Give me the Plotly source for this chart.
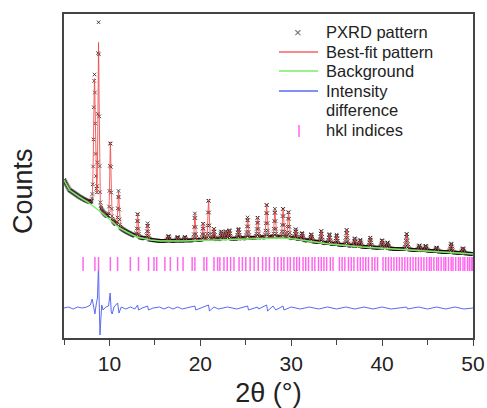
import numpy as np
import plotly.graph_objects as go

# ---------------- data (arbitrary count units) ----------------
# background anchor points (2theta, counts)
bg_x = [5.0, 5.6, 6.7, 7.6, 9.2, 10.2, 11.1, 11.9, 13.0, 14.5, 15.6, 18.0, 21.1, 24.0, 26.7, 28.9, 30.3, 32.0, 34.1, 37.8, 41.4, 45.2, 50.0]
bg_y = [158, 148, 141, 136, 125, 117, 110, 106, 101, 98, 97, 97, 98, 99, 100, 100, 99, 97, 94, 91, 89, 87, 84]

# reflections of the fit: position, calculated height above background, observed height, FWHM
peak_pos = [8.35, 8.8, 10.1, 11.0, 13.1, 14.2, 16.5, 17.5, 18.3, 19.4, 20.3, 20.9, 21.5, 22.3, 22.8, 23.2,
            24.2, 25.2, 26.3, 27.3, 28.2, 29.1, 29.7, 30.5, 31.2, 32.2, 33.3, 34.2, 35.0, 36.1, 37.0,
            37.6, 38.7, 40.0, 40.6, 42.7, 44.1, 44.8, 46.0, 47.6, 48.9]
calc_height = [128, 166, 78, 35, 23, 16, 5, 4, 4, 26, 17, 40, 11, 8, 8, 9,
               10, 20, 21, 33, 28, 29, 27, 10, 7, 7, 12, 10, 10, 16, 8,
               7, 10, 8, 6, 15, 5, 5, 4, 9, 5]
obs_height = [132, 186, 80, 36, 24, 16, 5, 4, 4, 27, 17, 41, 11, 8, 8, 9,
              10, 21, 21, 34, 29, 30, 27, 10, 7, 7, 12, 10, 10, 16, 8,
              7, 10, 8, 6, 16, 5, 5, 4, 9, 5]
peak_fwhm = [0.22, 0.16, 0.16, 0.16, 0.16, 0.16, 0.2, 0.2, 0.2, 0.16, 0.16, 0.16, 0.18, 0.2, 0.2, 0.2,
             0.2, 0.18, 0.18, 0.18, 0.18, 0.18, 0.18, 0.2, 0.2, 0.2, 0.2, 0.2, 0.2, 0.2, 0.2,
             0.2, 0.2, 0.22, 0.22, 0.22, 0.22, 0.22, 0.22, 0.22, 0.22]

# difference curve (obs - calc): 2theta, offset counts
diff_x = [5.0, 5.5, 6.0, 6.5, 7.0, 7.5, 7.9, 8.1, 8.25, 8.4, 8.55, 8.68, 8.75, 8.8, 8.85, 8.9, 8.96, 9.05, 9.15, 9.3, 9.6,
          9.9, 10.0, 10.08, 10.2, 10.3, 10.5, 10.9, 11.05, 11.3, 11.8, 12.3, 12.8, 13.1, 13.2, 13.6, 14.2,
          14.3, 14.8, 15.5, 16.0, 16.5, 17.0, 17.5, 18.0, 18.5, 19.4, 19.5, 20.0, 20.9, 21.0, 21.5,
          22.0, 23.0, 24.0, 25.2, 25.3, 26.3, 26.4, 27.3, 27.4, 28.0, 28.3, 29.1, 29.2, 30.0, 31.0,
          32.0, 33.0, 34.0, 35.0, 36.0, 37.0, 38.0, 39.0, 40.0, 41.0, 42.7, 42.8, 44.0, 45.0, 46.0,
          47.0, 48.0, 49.0, 50.0]
diff_y = [0, 1, -1, 1, 0, 1, 3, 9, 2, -6, 4, 10, 30, 43, 15, -10, -27, -12, 3, -2, 1,
          2, 8, 15, -4, -6, 1, 5, -5, 1, -1, 1, -1, 3, -2, 0, 2,
          -2, 0, 1, -1, 1, -1, 1, -1, 0, 2, -2, 0, 3, -3, 1,
          -1, 1, -1, 2, -2, 1, -1, 3, -3, 2, -2, 2, -2, 1, -1,
          1, -1, 1, -1, 1, -1, 1, -1, 1, -1, 1, -1, 1, -1, 1,
          -1, 1, -1, 0]
diff_offset = 30

# hkl reflection markers (2theta)
hkl_pos = [7.1, 8.4, 8.8, 10.1, 10.9, 12.3, 13.2, 14.3, 14.9, 15.2, 16.1, 16.7, 17.5, 18.1, 19.1, 19.4,
           20.4, 20.7, 21.5, 21.9, 22.15, 22.6, 22.96, 23.33, 23.7, 24.26, 24.63, 25.0, 25.48, 25.92,
           26.37, 26.85, 27.22, 27.6, 28.15, 28.52, 28.9, 29.2, 29.6, 29.9, 30.3, 30.6, 30.9, 31.3,
           31.6, 31.9, 32.3, 32.6, 33.0, 33.3, 33.6, 33.9, 34.3, 34.6, 35.3, 35.6, 35.9, 36.3, 36.6,
           36.9, 37.3, 37.6, 37.9, 38.2, 38.5, 38.9, 39.2, 39.5, 40.1, 40.4, 40.7, 41.0, 41.3, 41.6,
           41.9, 42.2, 42.5, 42.8, 43.1, 43.4, 43.7, 44.0, 44.3, 44.6, 44.9, 45.2, 45.4, 45.7, 46.0,
           46.2, 46.5, 46.8, 47.0, 47.3, 47.6, 47.8, 48.1, 48.4, 48.6, 48.9, 49.1, 49.4, 49.6, 49.8, 49.95]
hkl_level = 74

x_ticks = [10, 20, 30, 40, 50]

legend_labels = ["PXRD pattern", "Best-fit pattern", "Background", "Intensity", "difference", "hkl indices"]

OBS_C = "rgba(15,15,15,0.75)"
CALC_C = "rgba(240,70,70,0.85)"
BG_C = "#77ee66"
DIFF_C = "#5a6af0"
HKL_C = "#ff66ee"

# ---------------- build profiles ----------------
grid = np.arange(5.0, 50.0001, 0.02)
bg = np.interp(grid, bg_x, bg_y)


def profile(heights):
    out = np.zeros_like(grid)
    for p, h, w in zip(peak_pos, heights, peak_fwhm):
        g = np.exp(-4 * np.log(2) * ((grid - p) / w) ** 2)
        l = 1.0 / (1.0 + 4 * ((grid - p) / w) ** 2)
        out += h * (0.75 * g + 0.25 * l)
    return out


calc = bg + profile(calc_height)
obs = bg + profile(obs_height)

fig = go.Figure()

fig.add_trace(go.Scatter(x=grid[::2], y=obs[::2], mode="markers", name="PXRD pattern",
                         marker=dict(symbol="x-thin", size=3.5, color=OBS_C,
                                     line=dict(width=1, color=OBS_C))))
fig.add_trace(go.Scatter(x=grid, y=calc, mode="lines", name="Best-fit pattern",
                         line=dict(color=CALC_C, width=1)))
fig.add_trace(go.Scatter(x=bg_x, y=bg_y, mode="lines", name="Background",
                         line=dict(color=BG_C, width=1.5)))
fig.add_trace(go.Scatter(x=diff_x, y=[diff_offset + d for d in diff_y], mode="lines",
                         name="Intensity difference",
                         line=dict(color=DIFF_C, width=1)))
fig.add_trace(go.Scatter(x=hkl_pos, y=[hkl_level] * len(hkl_pos), mode="markers", name="hkl indices",
                         marker=dict(symbol="line-ns", size=10, color=HKL_C,
                                     line=dict(width=1.5, color=HKL_C))))

# ---------------- hand-laid legend (plot area: 64..473 px wide, 14..338 px tall) ----------------
def px_x(px):
    return (px - 64) / 409.0


def px_y(py):
    return (338 - py) / 324.0


row_py = [32, 52, 71, 91, 110, 130]
annotations = []
for lbl, py in zip(legend_labels, row_py):
    annotations.append(dict(text=lbl, xref="paper", yref="paper", x=px_x(324), y=px_y(py),
                            xanchor="left", yanchor="middle", showarrow=False,
                            font=dict(size=16.5, color="#222")))
annotations.append(dict(text="×", xref="paper", yref="paper", x=px_x(298), y=px_y(32),
                        xanchor="center", yanchor="middle", showarrow=False,
                        font=dict(size=13, color="#666")))
annotations.append(dict(text="Counts", textangle=-90, xref="paper", yref="paper",
                        x=px_x(23), y=px_y(191), xanchor="center", yanchor="middle", showarrow=False,
                        font=dict(size=27, color="#222")))

shapes = []
for col, py in [(CALC_C, 52), (BG_C, 71), (DIFF_C, 91)]:
    shapes.append(dict(type="line", xref="paper", yref="paper", x0=px_x(279), x1=px_x(318),
                       y0=px_y(py), y1=px_y(py), line=dict(color=col, width=1.5)))
shapes.append(dict(type="line", xref="paper", yref="paper", x0=px_x(299), x1=px_x(299),
                   y0=px_y(125), y1=px_y(137), line=dict(color=HKL_C, width=1.5)))

fig.update_layout(
    width=487, height=408,
    margin=dict(l=64, r=14, t=14, b=70, autoexpand=False),
    paper_bgcolor="white", plot_bgcolor="white",
    font=dict(family="Liberation Sans, Arial, sans-serif", color="#222"),
    showlegend=False,
    xaxis=dict(range=[5, 50], tickvals=x_ticks, ticktext=[str(v) for v in x_ticks],
               ticks="outside", ticklen=6, tickwidth=1.2, tickcolor="#444",
               minor=dict(dtick=5, tick0=5, ticks="outside", ticklen=5, tickwidth=1.2, tickcolor="#444"),
               tickfont=dict(size=21, color="#222"), automargin=False,
               showline=True, linecolor="#444", linewidth=1.5, mirror=True,
               showgrid=False, zeroline=False,
               title=dict(text="2θ (°)", font=dict(size=27, color="#222"), standoff=11)),
    yaxis=dict(range=[0, 324], showticklabels=False, ticks="", automargin=False,
               showline=True, linecolor="#444", linewidth=1.5, mirror=True,
               showgrid=False, zeroline=False),
    annotations=annotations,
    shapes=shapes,
)

fig.write_html("out.html")
